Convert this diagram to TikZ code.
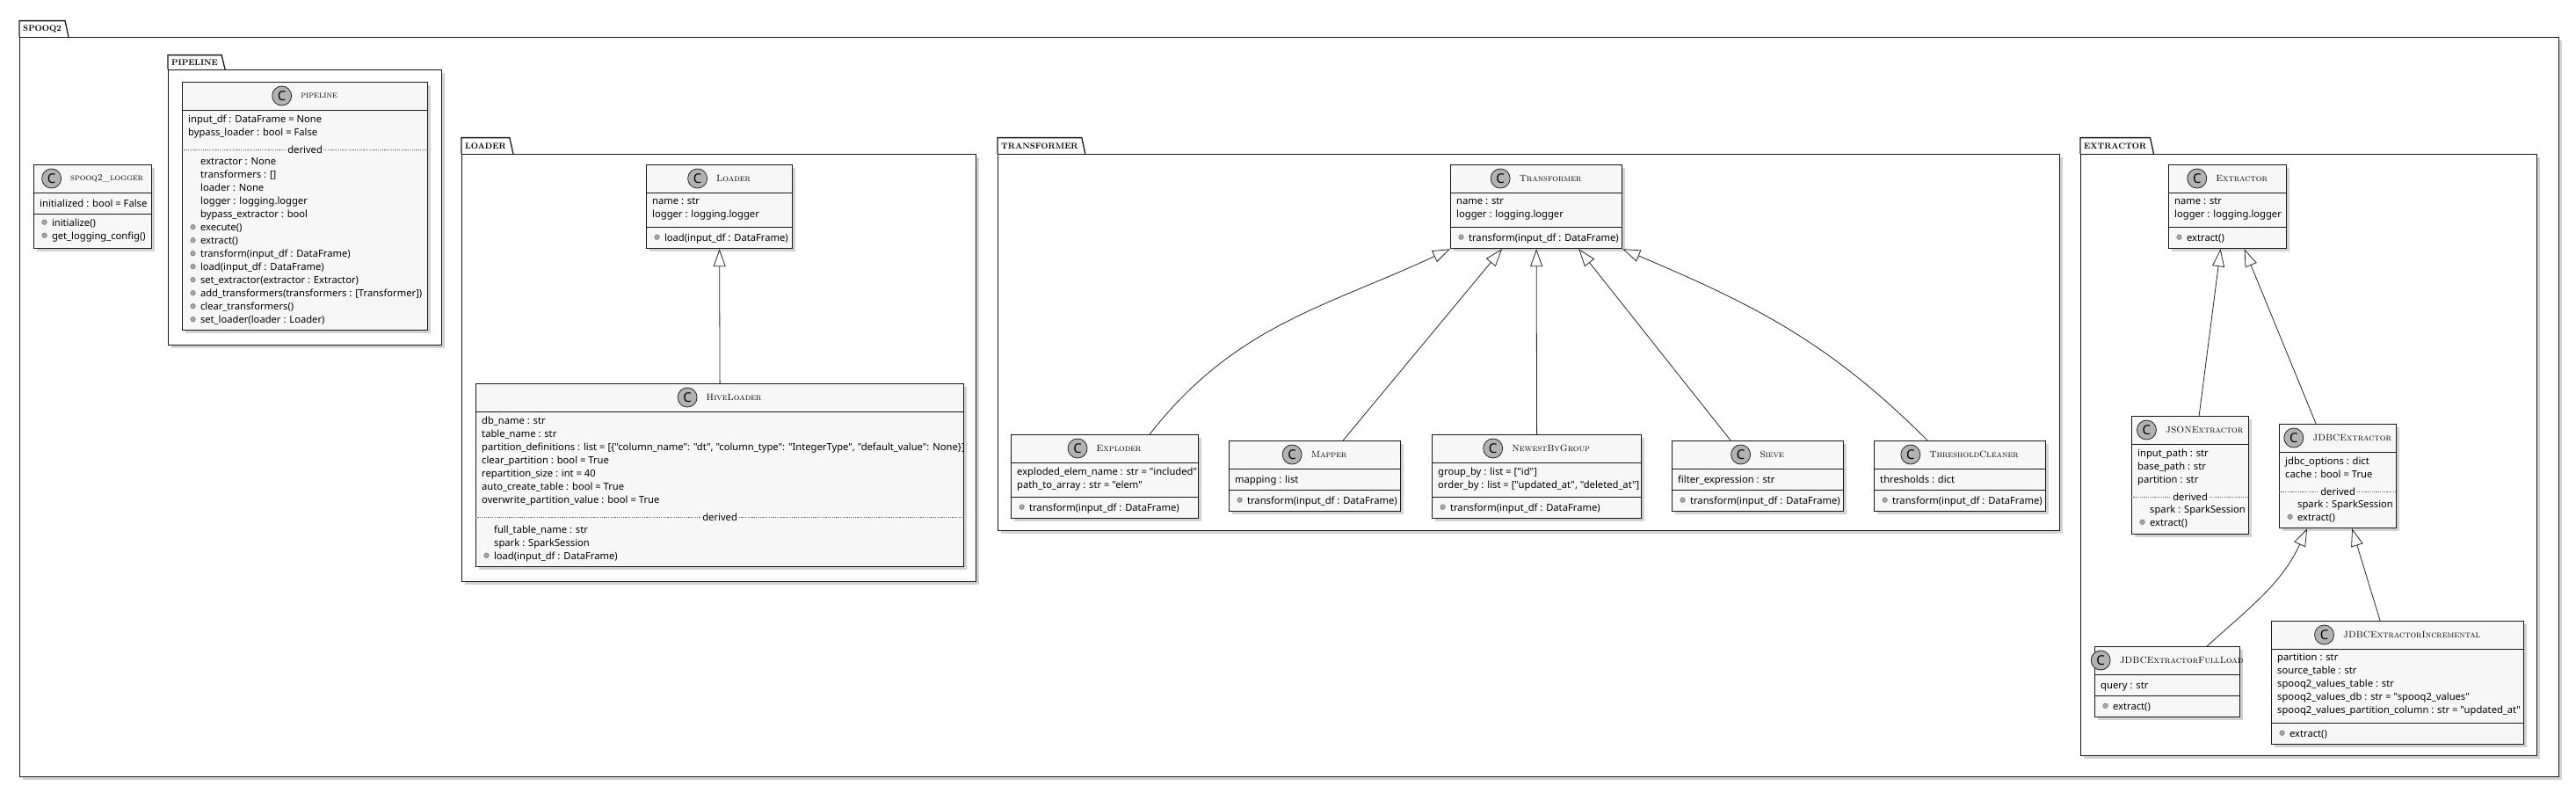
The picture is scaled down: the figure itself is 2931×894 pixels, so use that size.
\documentclass[tikz,border=0pt]{standalone}
\usepackage{fontspec}
\newfontfamily\memberfont{Noto Sans}
\usetikzlibrary{arrows.meta, positioning, shadows}
\colorlet{colLinea}{black!90}
\colorlet{colCaja}{black!3}
\tikzset{
  pkgframe/.style={draw=colLinea, line width=1.3pt, fill=white, anchor=north west,
    inner sep=0pt, drop shadow={shadow xshift=3pt, shadow yshift=-3pt, opacity=.35}},
  pkgtab/.style={anchor=south west, inner xsep=4pt, inner ysep=0pt, minimum height=18pt,
    font=\bfseries\fontsize{9.5}{10}\selectfont},
  pkgline/.style={draw=colLinea, line width=1.3pt},
  umlbox/.style={draw=colLinea, line width=1.2pt, fill=colCaja, anchor=north west,
    inner sep=0pt, drop shadow={shadow xshift=3pt, shadow yshift=-3pt, opacity=.35}},
  umltitle/.style={inner sep=0pt, font=\fontsize{10.5}{12}\selectfont\scshape},
  cbadge/.style={circle, draw=black!85, line width=.8pt, fill=black!30,
    minimum size=22pt, inner sep=0pt, font=\memberfont\bfseries\fontsize{15}{15}\selectfont},
  % first baseline sits 10.5pt under the node top (strut)
  members/.style={anchor=north west, yshift=10.5pt, align=left, inner sep=0pt,
    font=\memberfont\fontsize{11.2}{15}\selectfont, execute at begin node=\strut},
  sepline/.style={draw=colLinea, line width=1pt},
  derivedline/.style={draw=black!60, line width=.6pt, dash pattern=on 1.2pt off 1.2pt},
  derivedlabel/.style={fill=colCaja, inner xsep=1pt, inner ysep=0pt,
    font=\memberfont\fontsize{11.2}{15}\selectfont},
  inherit/.style={draw=black!85, line width=.8pt, -{Triangle[open, length=20pt, width=14pt]}},
}
% header row of a class box: rule, badge and name
\newcommand\classhead[2]{%
  \draw[sepline] ([yshift=-32pt]#1.north west) -- ([yshift=-32pt]#1.north east);
  \node[umltitle] (#1-name) at ([xshift=16pt,yshift=-16pt]#1.north) {#2};
  \node[cbadge, left=10pt of #1-name] (#1-c) {C};}
\newcommand\classsep[2]{%
  \draw[sepline] ([yshift=-#2pt]#1.north west) -- ([yshift=-#2pt]#1.north east);}
\newcommand\classderived[2]{%
  \draw[derivedline] ([yshift=-#2pt]#1.north west) -- ([yshift=-#2pt]#1.north east);
  \node[derivedlabel] (#1-der) at ([yshift=-#2pt]#1.north) {derived};}
\newcommand\mth{\hspace*{2.3pt}\tikz[baseline=-4.5pt]\filldraw[fill=black!35, draw=black!55,
  line width=.5pt] (0,0) circle (2.8pt);\hspace{5.4pt}}
\newcommand\drv{\hspace*{14pt}}

\begin{document}
\begin{tikzpicture}[x=1pt, y=-1pt]
  \useasboundingbox (0,0) rectangle (2931,894);

  % packages
  \node[pkgtab] (pkgspooq-tab) at (22,42) {SPOOQ2};
  \node[pkgframe, minimum width=2889pt, minimum height=841pt] (pkgspooq) at (pkgspooq-tab.south west) {};
  \draw[pkgline] (pkgspooq-tab.south west) -- (pkgspooq-tab.north west) -- (pkgspooq-tab.north east) -- ([xshift=4pt]pkgspooq-tab.south east);

  \node[pkgtab, minimum height=16pt] (pkgpipeline-tab) at (191,79) {PIPELINE};
  \node[pkgframe, minimum width=311pt, minimum height=313pt] (pkgpipeline) at (pkgpipeline-tab.south west) {};
  \draw[pkgline] (pkgpipeline-tab.south west) -- (pkgpipeline-tab.north west) -- (pkgpipeline-tab.north east) -- ([xshift=4pt]pkgpipeline-tab.south east);

  \node[pkgtab] (pkgloader-tab) at (525,175) {LOADER};
  \node[pkgframe, minimum width=585pt, minimum height=486pt] (pkgloader) at (pkgloader-tab.south west) {};
  \draw[pkgline] (pkgloader-tab.south west) -- (pkgloader-tab.north west) -- (pkgloader-tab.north east) -- ([xshift=4pt]pkgloader-tab.south east);

  \node[pkgtab] (pkgtransformer-tab) at (1135,175) {TRANSFORMER};
  \node[pkgframe, minimum width=1208pt, minimum height=428pt] (pkgtransformer) at (pkgtransformer-tab.south west) {};
  \draw[pkgline] (pkgtransformer-tab.south west) -- (pkgtransformer-tab.north west) -- (pkgtransformer-tab.north east) -- ([xshift=4pt]pkgtransformer-tab.south east);

  \node[pkgtab] (pkgextractor-tab) at (2367,175) {EXTRACTOR};
  \node[pkgframe, minimum width=519pt, minimum height=684pt] (pkgextractor) at (pkgextractor-tab.south west) {};
  \draw[pkgline] (pkgextractor-tab.south west) -- (pkgextractor-tab.north west) -- (pkgextractor-tab.north east) -- ([xshift=4pt]pkgextractor-tab.south east);

  % spooq2_logger
  \node[umlbox, minimum width=134pt, minimum height=95pt] (logger) at (38,187) {};
  \classhead{logger}{spooq2\_logger}
  \classsep{logger}{56}
  \node[members] (logger-attr) at ([xshift=7pt,yshift=-48pt]logger.north west) {initialized : bool = False};
  \node[members] (logger-ops) at ([xshift=7pt,yshift=-72pt]logger.north west) {\mth initialize()\\ \mth get\_logging\_config()};

  % pipeline
  \node[umlbox, minimum width=279pt, minimum height=282pt] (pipeline) at (207,93) {};
  \classhead{pipeline}{pipeline}
  \node[members] (pipeline-attr) at ([xshift=7pt,yshift=-48pt]pipeline.north west) {input\_df : DataFrame = None\\bypass\_loader : bool = False};
  \classderived{pipeline}{77}
  \node[members] (pipeline-ops) at ([xshift=7pt,yshift=-97pt]pipeline.north west) {\drv extractor : None\\ \drv transformers : []\\ \drv loader : None\\ \drv logger : logging.logger\\ \drv bypass\_extractor : bool\\ \mth execute()\\ \mth extract()\\ \mth transform(input\_df : DataFrame)\\ \mth load(input\_df : DataFrame)\\ \mth set\_extractor(extractor : Extractor)\\ \mth add\_transformers(transformers : [Transformer])\\ \mth clear\_transformers()\\ \mth set\_loader(loader : Loader)};

  % loader package
  \node[umlbox, minimum width=166pt, minimum height=95pt] (loader) at (735,187) {};
  \classhead{loader}{Loader}
  \classsep{loader}{71}
  \node[members] (loader-attr) at ([xshift=7pt,yshift=-48pt]loader.north west) {name : str\\logger : logging.logger};
  \node[members] (loader-ops) at ([xshift=7pt,yshift=-87pt]loader.north west) {\mth load(input\_df : DataFrame)};

  \node[umlbox, minimum width=555pt, minimum height=208pt] (hiveloader) at (541,436) {};
  \classhead{hiveloader}{HiveLoader}
  \node[members] (hiveloader-attr) at ([xshift=7pt,yshift=-48pt]hiveloader.north west) {db\_name : str\\table\_name : str\\partition\_definitions : list = [\{"column\_name": "dt", "column\_type": "IntegerType", "default\_value": None\}]\\clear\_partition : bool = True\\repartition\_size : int = 40\\auto\_create\_table : bool = True\\overwrite\_partition\_value : bool = True};
  \classderived{hiveloader}{152}
  \node[members] (hiveloader-ops) at ([xshift=7pt,yshift=-172pt]hiveloader.north west) {\drv full\_table\_name : str\\ \drv spark : SparkSession\\ \mth load(input\_df : DataFrame)};

  % transformer package
  \node[umlbox, minimum width=195pt, minimum height=95pt] (transformer) at (1650,187) {};
  \classhead{transformer}{Transformer}
  \classsep{transformer}{71}
  \node[members] (transformer-attr) at ([xshift=7pt,yshift=-48pt]transformer.north west) {name : str\\logger : logging.logger};
  \node[members] (transformer-ops) at ([xshift=7pt,yshift=-87pt]transformer.north west) {\mth transform(input\_df : DataFrame)};

  \node[umlbox, minimum width=213pt, minimum height=95pt] (exploder) at (1150,494) {};
  \classhead{exploder}{Exploder}
  \classsep{exploder}{71}
  \node[members] (exploder-attr) at ([xshift=7pt,yshift=-48pt]exploder.north west) {exploded\_elem\_name : str = "included"\\path\_to\_array : str = "elem"};
  \node[members] (exploder-ops) at ([xshift=7pt,yshift=-87pt]exploder.north west) {\mth transform(input\_df : DataFrame)};

  \node[umlbox, minimum width=195pt, minimum height=80pt] (mapper) at (1398,501) {};
  \classhead{mapper}{Mapper}
  \classsep{mapper}{56}
  \node[members] (mapper-attr) at ([xshift=7pt,yshift=-48pt]mapper.north west) {mapping : list};
  \node[members] (mapper-ops) at ([xshift=7pt,yshift=-72pt]mapper.north west) {\mth transform(input\_df : DataFrame)};

  \node[umlbox, minimum width=238pt, minimum height=95pt] (newest) at (1629,494) {};
  \classhead{newest}{NewestByGroup}
  \classsep{newest}{71}
  \node[members] (newest-attr) at ([xshift=7pt,yshift=-48pt]newest.north west) {group\_by : list = ["id"]\\order\_by : list = ["updated\_at", "deleted\_at"]};
  \node[members] (newest-ops) at ([xshift=7pt,yshift=-87pt]newest.north west) {\mth transform(input\_df : DataFrame)};

  \node[umlbox, minimum width=195pt, minimum height=80pt] (sieve) at (1902,501) {};
  \classhead{sieve}{Sieve}
  \classsep{sieve}{56}
  \node[members] (sieve-attr) at ([xshift=7pt,yshift=-48pt]sieve.north west) {filter\_expression : str};
  \node[members] (sieve-ops) at ([xshift=7pt,yshift=-72pt]sieve.north west) {\mth transform(input\_df : DataFrame)};

  \node[umlbox, minimum width=195pt, minimum height=80pt] (threshold) at (2132,501) {};
  \classhead{threshold}{ThresholdCleaner}
  \classsep{threshold}{56}
  \node[members] (threshold-attr) at ([xshift=7pt,yshift=-48pt]threshold.north west) {thresholds : dict};
  \node[members] (threshold-ops) at ([xshift=7pt,yshift=-72pt]threshold.north west) {\mth transform(input\_df : DataFrame)};

  % extractor package
  \node[umlbox, minimum width=134pt, minimum height=95pt] (extractor) at (2467,187) {};
  \classhead{extractor}{Extractor}
  \classsep{extractor}{71}
  \node[members] (extractor-attr) at ([xshift=7pt,yshift=-48pt]extractor.north west) {name : str\\logger : logging.logger};
  \node[members] (extractor-ops) at ([xshift=7pt,yshift=-87pt]extractor.north west) {\mth extract()};

  \node[umlbox, minimum width=133pt, minimum height=134pt] (json) at (2425,473) {};
  \classhead{json}{JSONExtractor}
  \node[members] (json-attr) at ([xshift=7pt,yshift=-48pt]json.north west) {input\_path : str\\base\_path : str\\partition : str};
  \classderived{json}{92}
  \node[members] (json-ops) at ([xshift=7pt,yshift=-112pt]json.north west) {\drv spark : SparkSession\\ \mth extract()};

  \node[umlbox, minimum width=133pt, minimum height=118pt] (jdbc) at (2593,482) {};
  \classhead{jdbc}{JDBCExtractor}
  \node[members] (jdbc-attr) at ([xshift=7pt,yshift=-48pt]jdbc.north west) {jdbc\_options : dict\\cache : bool = True};
  \classderived{jdbc}{77}
  \node[members] (jdbc-ops) at ([xshift=7pt,yshift=-97pt]jdbc.north west) {\drv spark : SparkSession\\ \mth extract()};

  \node[umlbox, minimum width=165pt, minimum height=80pt] (fullload) at (2383,735) {};
  \classhead{fullload}{JDBCExtractorFullLoad}
  \classsep{fullload}{56}
  \node[members] (fullload-attr) at ([xshift=7pt,yshift=-48pt]fullload.north west) {query : str};
  \node[members] (fullload-ops) at ([xshift=7pt,yshift=-72pt]fullload.north west) {\mth extract()};

  \node[umlbox, minimum width=287pt, minimum height=140pt] (incremental) at (2584,706) {};
  \classhead{incremental}{JDBCExtractorIncremental}
  \classsep{incremental}{116}
  \node[members] (incremental-attr) at ([xshift=7pt,yshift=-48pt]incremental.north west) {partition : str\\source\_table : str\\spooq2\_values\_table : str\\spooq2\_values\_db : str = "spooq2\_values"\\spooq2\_values\_partition\_column : str = "updated\_at"};
  \node[members] (incremental-ops) at ([xshift=7pt,yshift=-132pt]incremental.north west) {\mth extract()};

  % inheritance
  \draw[inherit] (hiveloader.north) -- (loader.south);
  \draw[inherit] ([xshift=51pt]exploder.north) to[out=52, in=-155] (transformer.south west);
  \draw[inherit] ([xshift=32pt]mapper.north) -- ([xshift=59pt]transformer.south west);
  \draw[inherit] (newest.north) -- (transformer.south);
  \draw[inherit] ([xshift=-31pt]sieve.north) -- ([xshift=-50pt]transformer.south east);
  \draw[inherit] ([xshift=-37pt]threshold.north) to[out=135, in=-23] (transformer.south east);
  \draw[inherit] ([xshift=10pt]json.north) -- ([xshift=-8pt]extractor.south);
  \draw[inherit] ([xshift=-25pt]jdbc.north) -- ([xshift=19pt]extractor.south);
  \draw[inherit] ([xshift=45pt]fullload.north) to[out=42, in=-115] ([xshift=-35pt]jdbc.south);
  \draw[inherit] ([xshift=-20pt]incremental.north) -- ([xshift=16pt]jdbc.south);
\end{tikzpicture}
\end{document}
